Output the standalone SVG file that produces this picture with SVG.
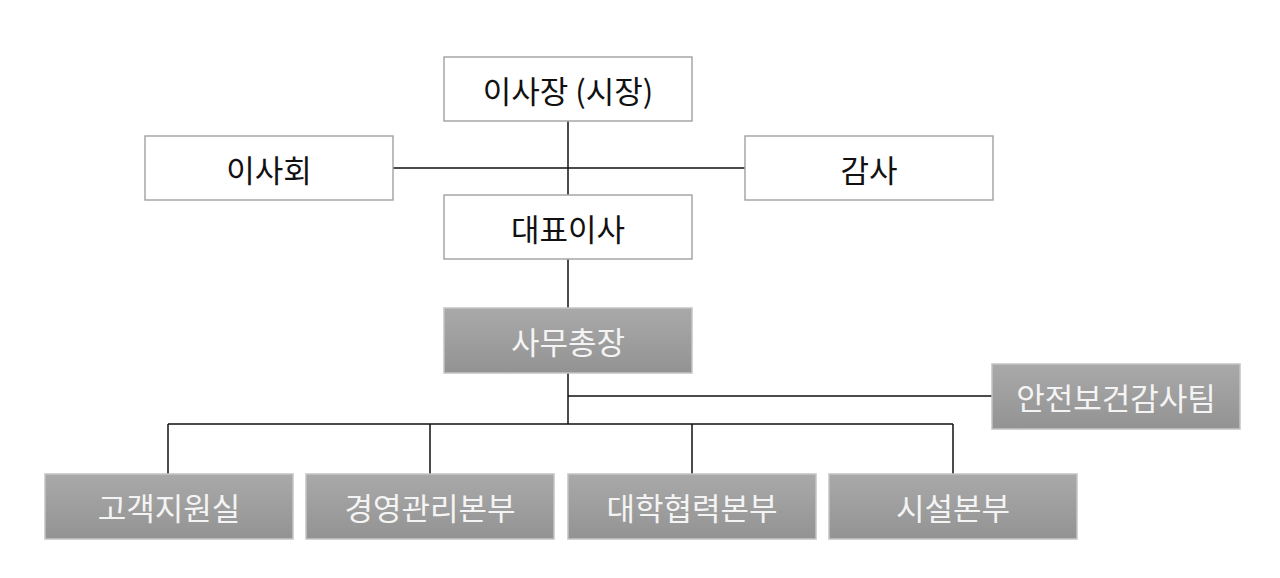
<svg xmlns="http://www.w3.org/2000/svg" width="1280" height="578" viewBox="0 0 1280 578">
<style>
.w{fill:#fff;stroke:#a6a6a6;stroke-width:1.5}
.g{fill:url(#gr);stroke:#c4c4c4;stroke-width:1.5}
.t{font-family:"Noto Sans CJK KR","Noto Sans",sans-serif;font-size:31px;font-weight:400;text-anchor:middle;dominant-baseline:central}
.tb{fill:#111}
.tw{fill:#f4f4f4}
.c{stroke:#111;stroke-width:1.5;fill:none}
</style>
<defs>
<linearGradient id="gr" x1="0" y1="0" x2="0" y2="1">
<stop offset="0" stop-color="#a9a9a9"/>
<stop offset="1" stop-color="#939393"/>
</linearGradient>
</defs>
<g id="connectors">
<path class="c" d="M568 121V195M393 168H745M568 259V308M568 373V424M568 396H992M168 424H953M168 424V474M430 424V474M692 424V474M953 424V474"/>
</g>
<g id="n1"><rect class="w" x="444" y="57" width="248" height="64"/><text class="t tb" x="568" y="89">이사장 (시장)</text></g>
<g id="n2"><rect class="w" x="145" y="136" width="248" height="64"/><text class="t tb" x="269" y="168">이사회</text></g>
<g id="n3"><rect class="w" x="745" y="136" width="248" height="64"/><text class="t tb" x="869" y="168">감사</text></g>
<g id="n4"><rect class="w" x="444" y="195" width="248" height="64"/><text class="t tb" x="568" y="227">대표이사</text></g>
<g id="n5"><rect class="g" x="444" y="308" width="248" height="65"/><text class="t tw" x="568" y="340">사무총장</text></g>
<g id="n6"><rect class="g" x="992" y="364" width="248" height="65"/><text class="t tw" x="1116" y="396">안전보건감사팀</text></g>
<g id="n7"><rect class="g" x="45" y="474" width="248" height="65"/><text class="t tw" x="169" y="506">고객지원실</text></g>
<g id="n8"><rect class="g" x="306" y="474" width="248" height="65"/><text class="t tw" x="430" y="506">경영관리본부</text></g>
<g id="n9"><rect class="g" x="568" y="474" width="248" height="65"/><text class="t tw" x="692" y="506">대학협력본부</text></g>
<g id="n10"><rect class="g" x="829" y="474" width="248" height="65"/><text class="t tw" x="953" y="506">시설본부</text></g>
</svg>
